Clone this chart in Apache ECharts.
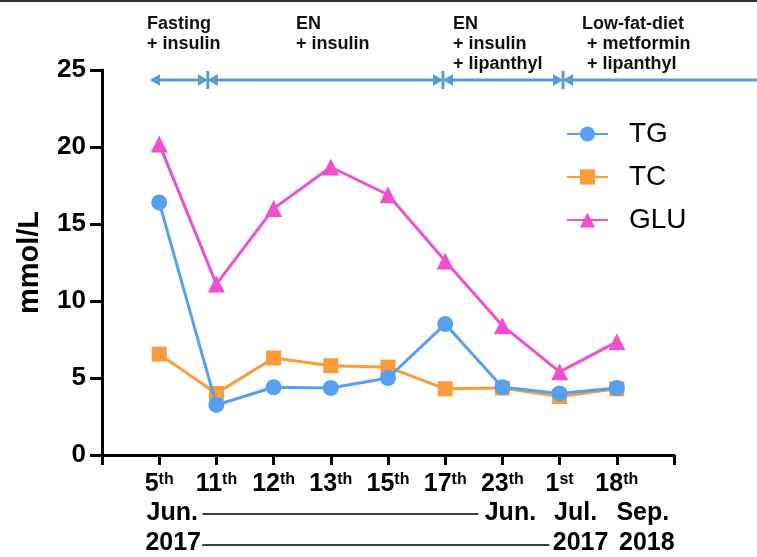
<!DOCTYPE html>
<html><head><meta charset="utf-8">
<script src="https://cdn.jsdelivr.net/npm/echarts@6/dist/echarts.min.js"></script>
<style>html,body{margin:0;padding:0;background:#fff}#c{width:757px;height:557px}</style>
</head><body><div id="c"></div>
<script>
// ---- data ----
const dayNums = ['5','11','12','13','15','17','23','1','18'];
const daySuffix = ['th','th','th','th','th','th','th','st','th'];
const monthLabels = ['Jun.','','','','','','Jun.','Jul.','Sep.'];
const yearLabels = ['2017','','','','','','','2017','2018'];
const tgValues = [16.4, 3.25, 4.4, 4.35, 5.0, 8.5, 4.4, 4.0, 4.35];
const tcValues = [6.55, 4.0, 6.3, 5.8, 5.7, 4.3, 4.35, 3.8, 4.3];
const gluValues = [20.2, 11.1, 16.0, 18.7, 16.9, 12.6, 8.4, 5.4, 7.35];
const seriesNames = ['TG', 'TC', 'GLU'];
const yAxisTitle = 'mmol/L';
const phaseLabels = ['Fasting\n+ insulin', 'EN\n+ insulin', 'EN\n+ insulin\n+ lipanthyl', 'Low-fat-diet\n + metformin\n + lipanthyl'];

// ---- layout (not data) ----
const FONT = "'Liberation Sans', Arial, Helvetica, sans-serif";
const phaseBounds = [0.84, 1.85, 5.96, 8.06, 11.45]; // axis units
const phaseLevel = 24.35;                            // axis units
const phaseTextLeft = [147, 296, 453, 582];
const monthShift = [13,0,0,0,0,0,8,16,26];
const yearShift = [14,0,0,0,0,0,0,21,30];
const monthSpan = [1.76, 6.58];
const yearSpan = [1.75, 7.82];
const colors = {TG: '#55a0f2', TC: '#f89c3c', GLU: '#ef50d2', phase: '#5b9bd5'};

const toXY = vals => vals.map((v, i) => [i + 1, v]);

function shiftRich(shifts, prefix) {
  const r = {};
  shifts.forEach((s, i) => {
    r[prefix + i] = {fontSize: 25, fontWeight: 'bold', fontFamily: FONT, color: '#000', lineHeight: 25, padding: [0, 0, 0, 2 * s]};
  });
  return r;
}

const chart = echarts.init(document.getElementById('c'), null, {renderer: 'canvas'});

const baseX = {type: 'value', min: 0, max: 10, interval: 1, position: 'bottom', gridIndex: 0, splitLine: {show: false}};

const option = {
  animation: false,
  backgroundColor: '#fff',
  textStyle: {fontFamily: FONT},
  grid: {left: 102, right: 83, top: 70, bottom: 102, outerBoundsMode: 'none'},
  legend: {
    orient: 'vertical', left: 561, top: 114,
    itemWidth: 41, itemHeight: 19, itemGap: 13,
    data: seriesNames,
    textStyle: {fontSize: 28, color: '#000', fontFamily: FONT, lineHeight: 30, padding: [0, 0, 0, 16]}
  },
  xAxis: [
    Object.assign({}, baseX, {
      axisLine: {show: true, lineStyle: {color: '#000', width: 3}},
      axisTick: {show: true, length: 10, lineStyle: {color: '#000', width: 3}},
      axisLabel: {
        margin: 17,
        formatter: v => (v >= 1 && v <= 9) ? `{n|${dayNums[v - 1]}}{s|${daySuffix[v - 1]}}` : '',
        rich: {
          n: {fontSize: 25, fontWeight: 'bold', fontFamily: FONT, color: '#000', lineHeight: 25},
          s: {fontSize: 16, fontWeight: 'bold', fontFamily: FONT, color: '#000', lineHeight: 16, verticalAlign: 'top'}
        }
      }
    }),
    Object.assign({}, baseX, {
      axisLine: {show: false}, axisTick: {show: false},
      axisLabel: {
        margin: 46,
        formatter: v => (v >= 1 && v <= 9 && monthLabels[v - 1]) ? `{m${v - 1}|${monthLabels[v - 1]}}` : '',
        rich: shiftRich(monthShift, 'm')
      }
    }),
    Object.assign({}, baseX, {
      axisLine: {show: false}, axisTick: {show: false},
      axisLabel: {
        margin: 76,
        formatter: v => (v >= 1 && v <= 9 && yearLabels[v - 1]) ? `{y${v - 1}|${yearLabels[v - 1]}}` : '',
        rich: shiftRich(yearShift, 'y')
      }
    })
  ],
  yAxis: {
    type: 'value', min: 0, max: 25, interval: 5,
    name: yAxisTitle, nameLocation: 'middle', nameGap: 58,
    nameTextStyle: {fontSize: 29, fontWeight: 'bold', color: '#000', fontFamily: FONT},
    axisLine: {show: true, lineStyle: {color: '#000', width: 3}},
    axisTick: {show: true, length: 12, lineStyle: {color: '#000', width: 3}},
    splitLine: {show: false},
    axisLabel: {fontSize: 26, fontWeight: 'bold', color: '#000', margin: 16, fontFamily: FONT}
  },
  series: [
    {name: 'TG', type: 'line', z: 3, data: toXY(tgValues), symbol: 'circle', symbolSize: 16,
     lineStyle: {width: 3, color: colors.TG}, itemStyle: {color: colors.TG}},
    {name: 'TC', type: 'line', z: 2, data: toXY(tcValues), symbol: 'rect', symbolSize: 15,
     lineStyle: {width: 3, color: colors.TC}, itemStyle: {color: colors.TC}},
    {name: 'GLU', type: 'line', z: 4, data: toXY(gluValues), symbol: 'triangle', symbolSize: 17,
     lineStyle: {width: 3, color: colors.GLU}, itemStyle: {color: colors.GLU}}
  ]
};
chart.setOption(option);

// ---- annotations, positioned via the chart's own scales ----
const px = x => chart.convertToPixel({xAxisIndex: 0}, x);
const py = y => chart.convertToPixel({yAxisIndex: 0}, y);
const g = [];
const yA = py(phaseLevel);
const HL = 10, HH = 6;
for (let i = 0; i < phaseBounds.length - 1; i++) {
  const x0 = px(phaseBounds[i]), x1 = px(phaseBounds[i + 1]);
  const last = i === phaseBounds.length - 2;
  g.push({type: 'line', shape: {x1: x0 + 2, y1: yA, x2: last ? x1 : x1 - 2, y2: yA}, style: {stroke: colors.phase, lineWidth: 3}, z: 10});
  g.push({type: 'polygon', shape: {points: [[x0, yA], [x0 + HL, yA - HH], [x0 + HL, yA + HH]]}, style: {fill: colors.phase}, z: 10});
  if (!last) {
    g.push({type: 'polygon', shape: {points: [[x1, yA], [x1 - HL, yA - HH], [x1 - HL, yA + HH]]}, style: {fill: colors.phase}, z: 10});
  }
  if (i > 0) {
    g.push({type: 'line', shape: {x1: x0, y1: yA - 9, x2: x0, y2: yA + 9}, style: {stroke: colors.phase, lineWidth: 3}, z: 10});
  }
}
phaseLabels.forEach((t, i) => {
  g.push({type: 'text', left: phaseTextLeft[i], top: 14, z: 10,
    style: {text: t, font: "bold 18px " + FONT, fill: '#111', lineHeight: 20}});
});
const yBase = py(0);
g.push({type: 'line', shape: {x1: px(monthSpan[0]), y1: yBase + 59, x2: px(monthSpan[1]), y2: yBase + 59}, style: {stroke: '#000', lineWidth: 1.5}});
g.push({type: 'line', shape: {x1: px(yearSpan[0]), y1: yBase + 90, x2: px(yearSpan[1]), y2: yBase + 90}, style: {stroke: '#000', lineWidth: 1.5}});
g.push({type: 'rect', shape: {x: 0, y: 0, width: 757, height: 2}, style: {fill: '#333'}});
chart.setOption({graphic: g});
</script>
</body></html>
